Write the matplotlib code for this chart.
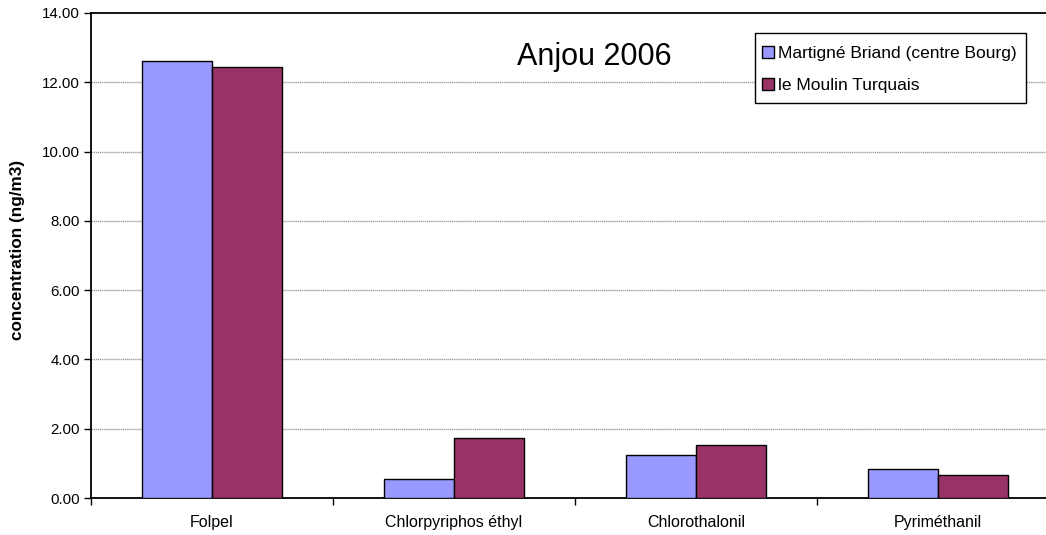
import matplotlib
matplotlib.use("Agg")
import matplotlib.pyplot as plt
import numpy as np
from matplotlib.lines import Line2D
from matplotlib.patches import Rectangle

plt.rcParams['font.family'] = ['Liberation Sans', 'DejaVu Sans']

categories = ["Folpel", "Chlorpyriphos éthyl", "Chlorothalonil", "Pyriméthanil"]
series_names = ["Martigné Briand (centre Bourg)", "le Moulin Turquais"]
martigne = [12.62, 0.54, 1.23, 0.84]
moulin = [12.43, 1.72, 1.53, 0.67]
title = "Anjou 2006"
ylabel = "concentration (ng/m3)"
yticks = [0, 2, 4, 6, 8, 10, 12, 14]
colors = ["#9999FF", "#993366"]

W, H = 1046, 535
fig = plt.figure(figsize=(W / 100, H / 100), dpi=100)
ax = fig.add_axes([91 / W, 37 / H, (1059 - 91) / W, (498 - 13) / H])

x = np.arange(len(categories))
bw = 0.29
ax.bar(x - bw / 2, martigne, bw, color=colors[0], edgecolor="black", linewidth=1, zorder=3)
ax.bar(x + bw / 2, moulin, bw, color=colors[1], edgecolor="black", linewidth=1, zorder=3)

ax.set_xlim(-0.5, len(categories) - 0.5)
ax.set_ylim(0, 14)
ax.set_yticks(yticks)
ax.set_yticklabels([f"{v:.2f}" for v in yticks])
ax.set_xticks(x)
ax.set_xticklabels(categories)
ax.tick_params(axis='x', length=0, pad=12, labelsize=11.5)
ax.set_xticks(np.arange(len(categories) + 1) - 0.5, minor=True)
ax.tick_params(axis='x', which='minor', length=5, width=1, direction='out')
ax.tick_params(axis='y', length=5, width=1, direction='out', labelsize=10.8, pad=3)

for yv in yticks[1:-1]:
    ax.axhline(yv, color="#A0A0A0", linewidth=1, linestyle=(0, (1, 0.5)), zorder=1)

for s in ["left", "bottom", "top"]:
    ax.spines[s].set_color("black")
    ax.spines[s].set_linewidth(1.3)
ax.spines["right"].set_visible(False)

ax.set_ylabel(ylabel, fontsize=12.3, fontweight='bold')
ax.yaxis.set_label_coords((25 - 91) / 968, (498 - 250) / 485)

fig.text(594 / W, 1 - 57 / H, title, ha='center', va='center', fontsize=22)

# legend frame
fig.patches.append(Rectangle((755 / W, 1 - 103 / H), (1026 - 755) / W, 70 / H,
                             transform=fig.transFigure, facecolor='white',
                             edgecolor='black', linewidth=1, zorder=4))
handles = [Line2D([], [], marker='s', linestyle='none', markersize=8,
                  markerfacecolor=c, markeredgecolor='black', markeredgewidth=1)
           for c in colors]
leg = fig.legend(handles, series_names, loc='upper left',
                 bbox_to_anchor=(755 / W, 1 - 38 / H), borderaxespad=0,
                 fontsize=12.5, frameon=False,
                 handlelength=0.6, handletextpad=0.3,
                 labelspacing=0.98, borderpad=0.43)
leg.set_zorder(5)

fig.savefig("out.png", dpi=100)
